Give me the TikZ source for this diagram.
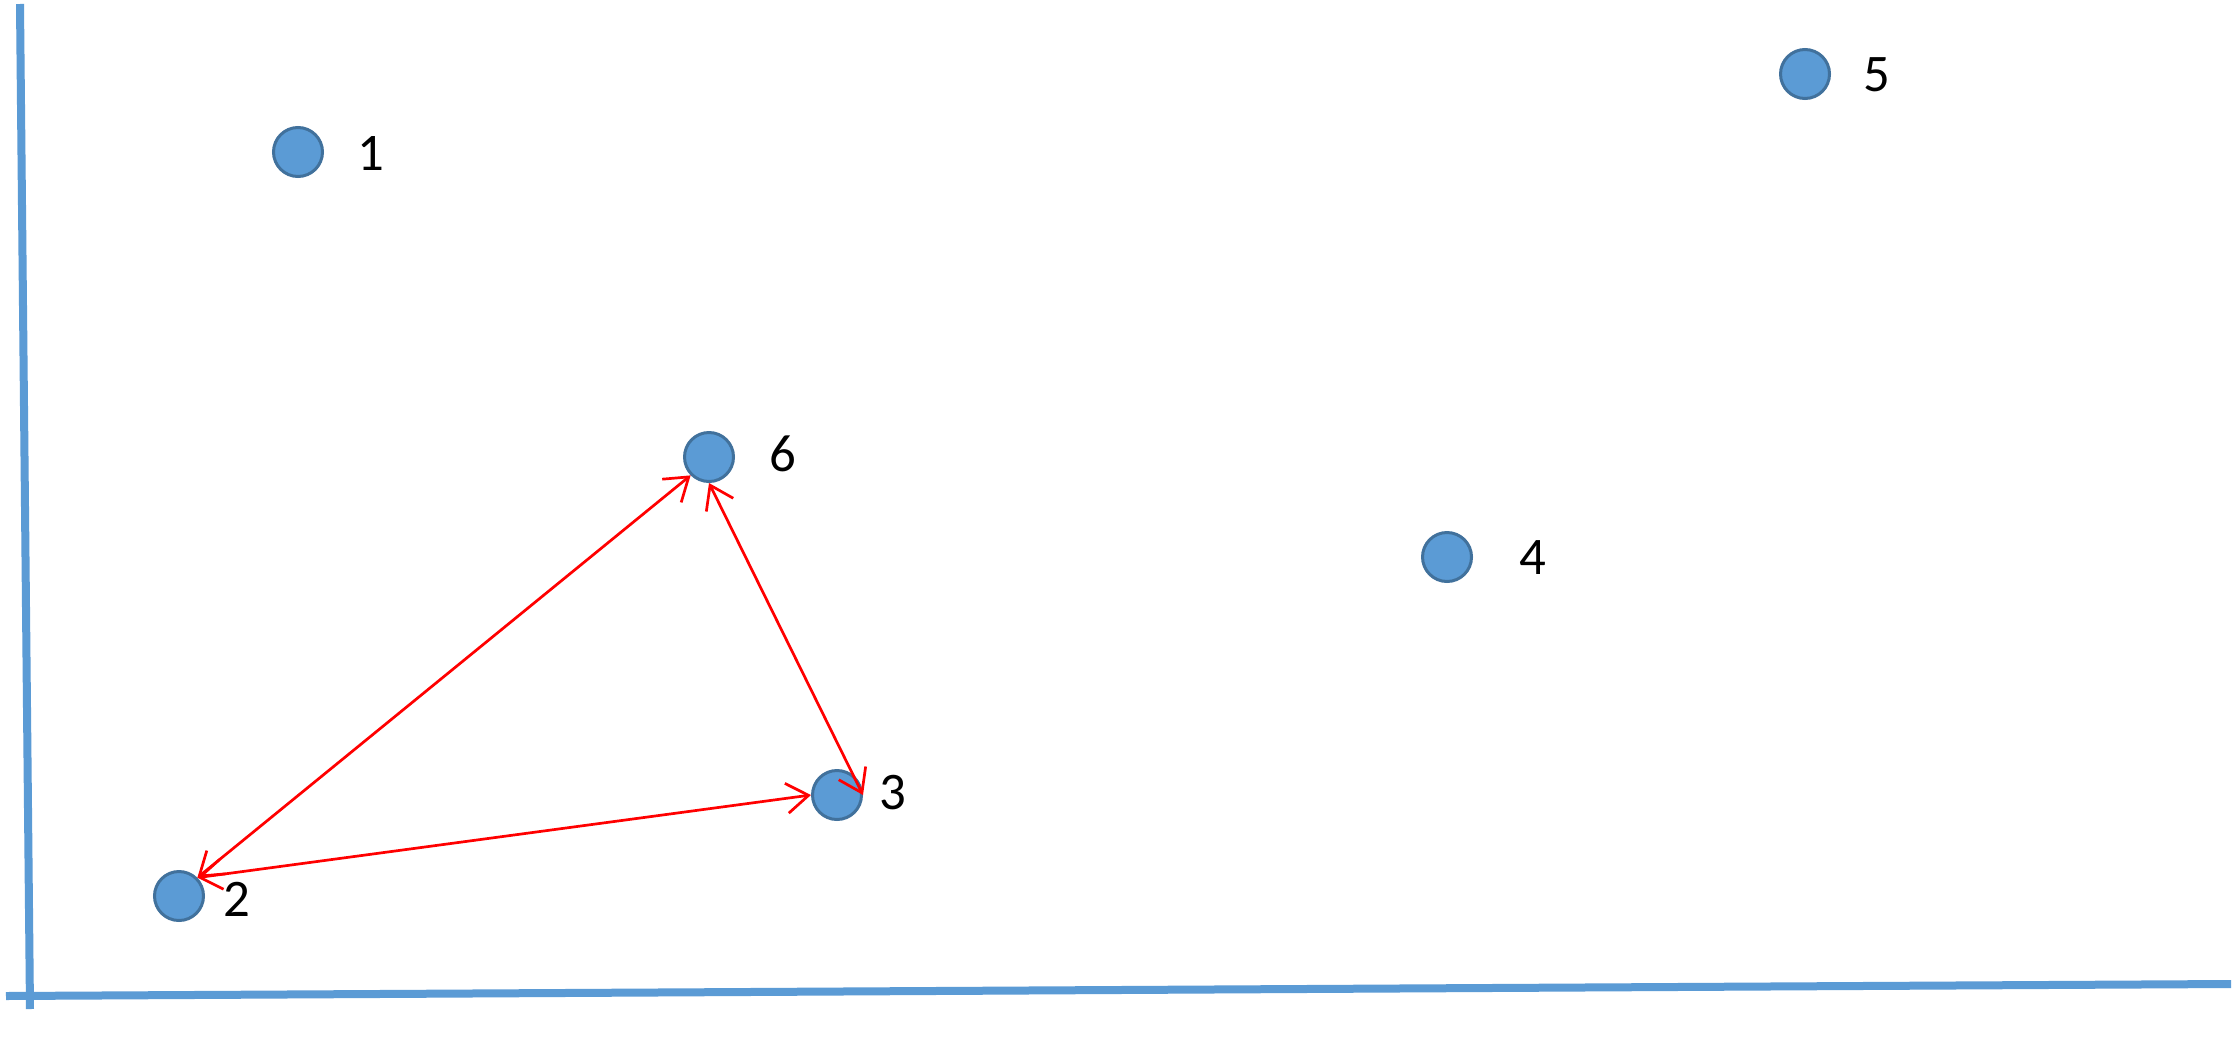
\documentclass[tikz,border=0pt]{standalone}
\usepackage{fontspec}
\setmainfont{Carlito}
\usetikzlibrary{arrows.meta}
\definecolor{ptfill}{HTML}{5B9BD5}
\definecolor{ptline}{HTML}{41719C}
\definecolor{axiscol}{HTML}{5B9BD5}
\begin{document}
\begin{tikzpicture}[x=1bp,y=-1bp,
  pt/.style={circle,fill=ptfill,draw=ptline,line width=3bp,minimum size=49bp,inner sep=0pt},
  lbl/.style={font=\fontsize{53}{60}\selectfont,inner sep=0pt,text=black},
  axis/.style={draw=axiscol,line width=8bp},
  link/.style={draw=red,line width=2.7bp,{Straight Barb[length=22bp,width=30bp]}-{Straight Barb[length=22bp,width=30bp]}}]
\useasboundingbox[fill=white] (0,0) rectangle (2233,1051);
% axes
\coordinate (ytop) at (20,4);
\coordinate (ybot) at (30,1009);
\coordinate (xleft) at (6,996);
\coordinate (xright) at (2231,984);
\draw[axis] (ytop) -- (ybot);
\draw[axis] (xleft) -- (xright);
% points
\node[pt] (n1) at (298,152) {};
\node[pt] (n2) at (179,896) {};
\node[pt] (n3) at (837,795) {};
\node[pt] (n4) at (1447,557) {};
\node[pt] (n5) at (1805,74) {};
\node[pt] (n6) at (709,457) {};
% labels
\node[lbl] (l1) at (371,154) {1};
\node[lbl] (l2) at (237,899) {2};
\node[lbl] (l3) at (893,793) {3};
\node[lbl] (l4) at (1533,558) {4};
\node[lbl] (l5) at (1877,75) {5};
\node[lbl] (l6) at (783,454) {6};
% connectors
\draw[link] (n2.north east) -- (n6.south west);
\draw[link] (n2.north east) -- (n3.west);
\draw[link] (n6.south) -- (n3.east);
\end{tikzpicture}
\end{document}
